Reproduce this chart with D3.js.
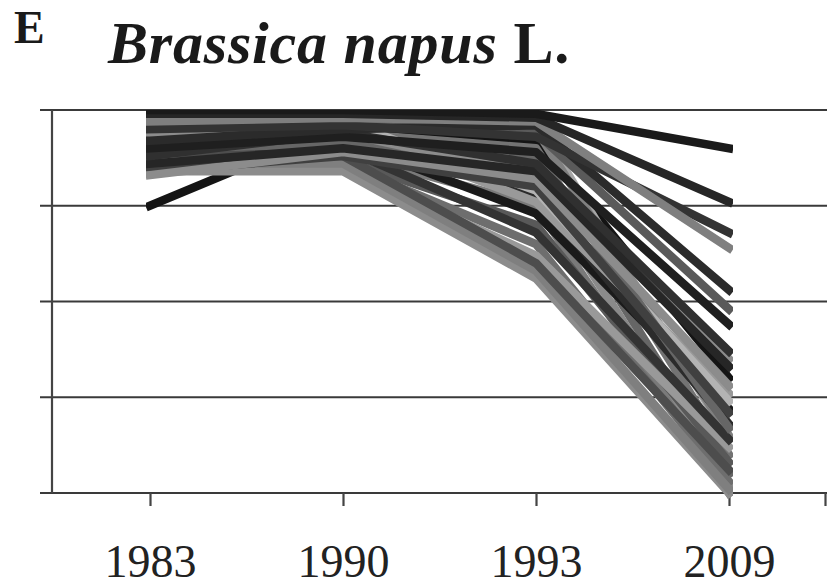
<!DOCTYPE html>
<html>
<head>
<meta charset="utf-8">
<script src="https://cdn.jsdelivr.net/npm/d3@7"></script>
<style>
  body { margin: 0; background: #fff; }
  svg { display: block; }
</style>
</head>
<body>
<div id="chart"></div>
<script>
// data (share of something, 0-100)
var years = ["1983", "1990", "1993", "2009"];
var yTicks = [0, 25, 50, 75, 100];

// one entry per line: values for 1983, 1990, 1993, 2009
var seriesValues = [
  [75, 96, 92, 30],
  [99, 99, 97, 14],
  [97, 96, 95, 15],
  [96, 94, 90, 10],
  [94, 92, 85, 5],
  [92, 91, 80, 2],
  [90, 89, 75, 0],
  [88, 87, 70, 8],
  [87, 86, 65, 3],
  [85, 85, 62, 12],
  [84, 84, 56, 0],
  [86, 86, 58, 1],
  [89, 88, 60, 6],
  [91, 90, 68, 14],
  [93, 92, 73, 22],
  [95, 93, 78, 18],
  [97, 95, 76, 26],
  [94, 97, 79, 24],
  [90, 91, 87, 17],
  [93, 94, 83, 35],
  [84, 88, 80, 21],
  [83, 89, 82, 28],
  [86, 90, 84, 33],
  [88, 94, 86, 37],
  [90, 93, 89, 44],
  [98, 97, 94, 48],
  [92, 95, 96, 53],
  [95, 96, 93, 68],
  [97, 98, 97, 64],
  [99, 99, 98, 76],
  [100, 100, 99, 90]
];
var seriesColors = [
  "#141414",
  "#a6a6a6", "#808080", "#737373", "#666666", "#8a8a8a", "#7a7a7a", "#595959", "#6e6e6e",
  "#999999", "#8c8c8c", "#7f7f7f", "#4d4d4d", "#333333", "#1a1a1a", "#2b2b2b", "#999999",
  "#b3b3b3", "#666666", "#8c8c8c", "#404040", "#8c8c8c", "#262626", "#303030", "#1f1f1f",
  "#5a5a5a", "#2b2b2b", "#333333", "#7f7f7f", "#262626", "#1a1a1a"
];

var W = 827, H = 586;
var plot = {left: 52, top: 110, bottom: 493};

var svg = d3.select("#chart").append("svg")
    .attr("width", W)
    .attr("height", H)
    .style("background", "#fff");

var x = d3.scalePoint()
    .domain(years)
    .range([150, 729]);

var y = d3.scaleLinear()
    .domain([0, 100])
    .range([plot.bottom, plot.top]);

// gridlines (they also make the left ticks)
svg.append("g")
  .selectAll("line")
  .data(yTicks)
  .enter().append("line")
    .attr("x1", plot.left - 12)
    .attr("x2", W)
    .attr("y1", function(d) { return y(d); })
    .attr("y2", function(d) { return y(d); })
    .style("stroke", "#3a3a3a")
    .style("stroke-width", 2.2);

// y axis line
svg.append("line")
  .attr("x1", plot.left).attr("x2", plot.left)
  .attr("y1", y(100)).attr("y2", y(0))
  .style("stroke", "#444")
  .style("stroke-width", 2.2);

// x axis ticks + labels
var xAxis = svg.append("g")
  .attr("transform", "translate(0," + y(0) + ")")
  .call(d3.axisBottom(x).tickSize(13).tickSizeOuter(0));
xAxis.select(".domain").remove();
xAxis.selectAll(".tick line").style("stroke", "#444").style("stroke-width", 2.2);
xAxis.selectAll(".tick text")
  .attr("y", 84)
  .attr("dy", 0)
  .style("font-family", "'Liberation Serif', 'Times New Roman', serif")
  .style("font-size", "46px")
  .style("fill", "#222");

// last boundary tick at right edge
svg.append("line")
  .attr("x1", x("2009") + x.step() / 2).attr("x2", x("2009") + x.step() / 2)
  .attr("y1", y(0)).attr("y2", y(0) + 13)
  .style("stroke", "#444")
  .style("stroke-width", 2.2);

// clip lines to the plot area like the original
svg.append("clipPath").attr("id", "clip")
  .append("rect")
  .attr("x", x("1983") - 4)
  .attr("y", plot.top)
  .attr("width", x("2009") - x("1983") + 8)
  .attr("height", plot.bottom - plot.top + 10);

var line = d3.line()
  .x(function(d, i) { return x(years[i]); })
  .y(function(d) { return y(d); });

svg.append("g")
  .attr("clip-path", "url(#clip)")
  .selectAll("path")
  .data(seriesValues)
  .enter().append("path")
    .attr("d", line)
    .style("fill", "none")
    .style("stroke", function(d, i) { return seriesColors[i]; })
    .style("stroke-width", 8.5)
    .style("stroke-linecap", "square")
    .style("stroke-linejoin", "round");

// titles
svg.append("text")
  .attr("x", 14)
  .attr("y", 43)
  .style("font-family", "'Liberation Serif', 'Times New Roman', serif")
  .style("font-weight", "bold")
  .style("font-size", "46px")
  .style("fill", "#1a1a1a")
  .text("E");

var title = svg.append("text")
  .attr("x", 108)
  .attr("y", 63)
  .style("font-family", "'Liberation Serif', 'Times New Roman', serif")
  .style("font-weight", "bold")
  .style("font-size", "60px")
  .style("letter-spacing", "0.8px")
  .style("fill", "#1a1a1a");
title.append("tspan").style("font-style", "italic").text("Brassica napus");
title.append("tspan").text(" L.");
</script>
</body>
</html>
